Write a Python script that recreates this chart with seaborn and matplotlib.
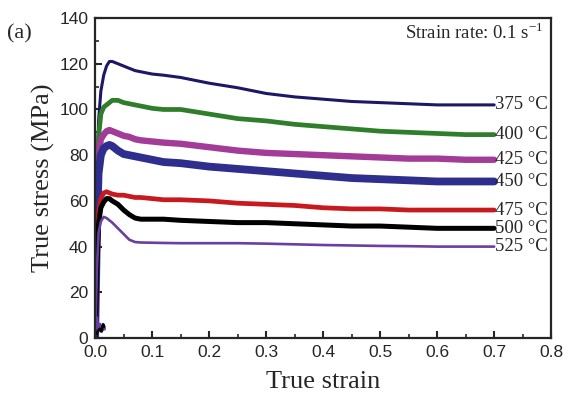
import numpy as np
import pandas as pd
import matplotlib
matplotlib.use('Agg')
import matplotlib.pyplot as plt
import seaborn as sns
from matplotlib.ticker import MultipleLocator

# Datos
strain = [0, 0.003, 0.006, 0.01, 0.015, 0.02, 0.025, 0.03, 0.04, 0.05, 0.06, 0.07, 0.08,
          0.1, 0.12, 0.15, 0.2, 0.25, 0.3, 0.35, 0.4, 0.45, 0.5, 0.55, 0.6, 0.65, 0.7]
temps = ['375 °C', '400 °C', '425 °C', '450 °C', '475 °C', '500 °C', '525 °C']
s375 = [0, 60, 95, 108, 115, 119, 121, 121, 120, 119, 118, 117, 116.5, 115.5, 115, 114,
        111.5, 109.5, 107, 105.5, 104.5, 103.5, 103, 102.5, 102, 102, 102]
s400 = [0, 55, 88, 98, 101, 102, 103, 104, 104, 103, 102.5, 102, 101.5, 100.5, 100, 100,
        98, 96, 95, 93.5, 92.5, 91.5, 90.5, 90, 89.5, 89, 89]
s425 = [0, 50, 80, 87, 89, 90.5, 91, 90.5, 89.5, 88.5, 88, 87, 86.5, 86, 85.5, 85,
        83.5, 82, 81, 80.5, 80, 79.5, 79, 78.5, 78.5, 78, 78]
s450 = [0, 45, 72, 80, 83, 84, 84.5, 84, 82, 80.5, 80, 79.5, 79, 78, 77, 76.5,
        75, 74, 73, 72, 71, 70, 69.5, 69, 68.5, 68.5, 68.5]
s475 = [0, 35, 55, 61, 63.5, 64, 63.5, 63, 62.5, 62.5, 62, 61.5, 61.5, 61, 60.5, 60.5,
        60, 59, 58.5, 58, 57, 56.5, 56.5, 56, 56, 56, 56]
s500 = [0, 30, 50, 57, 59.5, 61, 61, 60, 58.5, 56, 54, 52.5, 52, 52, 52, 51.5,
        51, 50.5, 50.5, 50, 49.5, 49, 49, 48.5, 48, 48, 48]
s525 = [0, 30, 46, 51, 53, 52.5, 51.5, 50.5, 48, 45.5, 43, 42, 41.8, 41.7, 41.6, 41.5,
        41.5, 41.5, 41.3, 41, 40.7, 40.5, 40.3, 40.2, 40, 40, 40]
series = [s375, s400, s425, s450, s475, s500, s525]

# pequeño tramo inicial cerca del origen
toe_strain = [0.002, 0.005, 0.008, 0.011, 0.014, 0.016]
toe_500 = [2, 3, 4, 3, 6, 5]
toe_525 = [9, 4, 6, 3, 5, 4]

colors = ['#1c1766', '#2f7e2c', '#a23c98', '#2e2e8e', '#c81a1e', '#000000', '#6a3fa2']
widths = [2.2, 3.4, 4.6, 5.6, 3.4, 3.6, 1.9]

df = pd.DataFrame({
    'strain': strain * len(temps),
    'stress': sum(series, []),
    'temp': np.repeat(temps, len(strain)),
})

sns.set_style('ticks')
plt.rcParams['mathtext.fontset'] = 'custom'
plt.rcParams['mathtext.rm'] = 'Liberation Serif'
fig = plt.figure(figsize=(5.63, 4.01), dpi=100)
ax = fig.add_axes([0.169, 0.157, 0.810, 0.798])

for t, c, w in zip(temps, colors, widths):
    sns.lineplot(data=df[df['temp'] == t], x='strain', y='stress', color=c,
                 linewidth=w, ax=ax, legend=False)
sns.lineplot(x=toe_strain, y=toe_525, color=colors[6], linewidth=2.5, ax=ax)
sns.lineplot(x=toe_strain, y=toe_500, color=colors[5], linewidth=2.0, ax=ax)

for t, s in zip(temps, series):
    ax.text(0.701, s[-1], t, family='Liberation Serif', fontsize=13.5,
            va='center', ha='left')

ax.text(0.787, 133.5, 'Strain rate: 0.1 s$^{\\mathrm{-1}}$', family='Liberation Serif',
        fontsize=13.5, ha='right', va='center')
fig.text(0.012, 0.905, '(a)', family='Liberation Serif', fontsize=16)

ax.set_xlim(0, 0.8)
ax.set_ylim(0, 140)
ax.xaxis.set_major_locator(MultipleLocator(0.1))
ax.xaxis.set_minor_locator(MultipleLocator(0.05))
ax.yaxis.set_major_locator(MultipleLocator(20))
ax.yaxis.set_minor_locator(MultipleLocator(10))
ax.set_xticklabels([f'{v:.1f}' for v in ax.get_xticks()])
ax.tick_params(which='major', direction='in', length=5, width=1.5,
               labelsize=12.5, pad=5)
ax.tick_params(axis='y', which='major', pad=5)
ax.tick_params(which='minor', direction='in', length=3, width=1.2)
for lab in ax.get_xticklabels() + ax.get_yticklabels():
    lab.set_family('Liberation Sans')
for sp in ax.spines.values():
    sp.set_linewidth(1.6)
    sp.set_visible(True)

ax.set_xlabel('True strain', family='Liberation Serif', fontsize=19, labelpad=8)
ax.set_ylabel('True stress (MPa)', family='Liberation Serif', fontsize=19, labelpad=3)

fig.savefig('out.png', dpi=100)
